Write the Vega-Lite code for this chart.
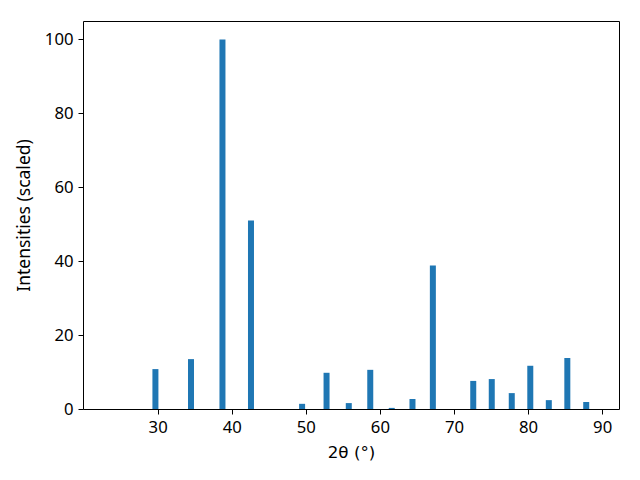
{
  "$schema": "https://vega.github.io/schema/vega-lite/v6.json",
  "autosize": "none",
  "width": 536,
  "height": 388,
  "padding": {"left": 83, "top": 21, "right": 21, "bottom": 71},
  "background": "white",
  "config": {
    "view": {"stroke": "black", "strokeWidth": 1},
    "font": "Noto Sans",
    "axis": {
      "grid": false,
      "domain": false,
      "tickColor": "black",
      "tickSize": 5,
      "tickWidth": 1,
      "labelColor": "black",
      "labelFont": "Noto Sans",
      "labelFontSize": 16.7,
      "titleFont": "Noto Sans",
      "titleFontSize": 17.5,
      "titleFontWeight": "normal",
      "titleColor": "black"
    }
  },
  "data": {
    "values": [
      {"two_theta": 29.7, "intensity": 10.8},
      {"two_theta": 34.5, "intensity": 13.5},
      {"two_theta": 38.75, "intensity": 100},
      {"two_theta": 42.6, "intensity": 51},
      {"two_theta": 49.5, "intensity": 1.4},
      {"two_theta": 52.8, "intensity": 9.8},
      {"two_theta": 55.8, "intensity": 1.6},
      {"two_theta": 58.7, "intensity": 10.6},
      {"two_theta": 61.6, "intensity": 0.3},
      {"two_theta": 64.4, "intensity": 2.7},
      {"two_theta": 67.15, "intensity": 38.8},
      {"two_theta": 72.6, "intensity": 7.6},
      {"two_theta": 75.1, "intensity": 8.1},
      {"two_theta": 77.8, "intensity": 4.3},
      {"two_theta": 80.3, "intensity": 11.7},
      {"two_theta": 82.8, "intensity": 2.4},
      {"two_theta": 85.3, "intensity": 13.8},
      {"two_theta": 87.85, "intensity": 1.9}
    ]
  },
  "mark": {"type": "bar", "size": 6, "color": "#1f77b4"},
  "encoding": {
    "x": {
      "field": "two_theta",
      "type": "quantitative",
      "scale": {"domain": [20.6, 91.6], "nice": false, "zero": false},
      "axis": {"values": [30, 40, 50, 60, 70, 80, 90], "title": "2θ (°)", "titleFont": "DejaVu Sans", "titleFontSize": 16.7, "labelPadding": 5, "titlePadding": 9}
    },
    "y": {
      "field": "intensity",
      "type": "quantitative",
      "scale": {"domain": [0, 105], "nice": false},
      "axis": {"values": [0, 20, 40, 60, 80, 100], "title": "Intensities (scaled)", "labelPadding": 5, "titlePadding": 11}
    }
  }
}
